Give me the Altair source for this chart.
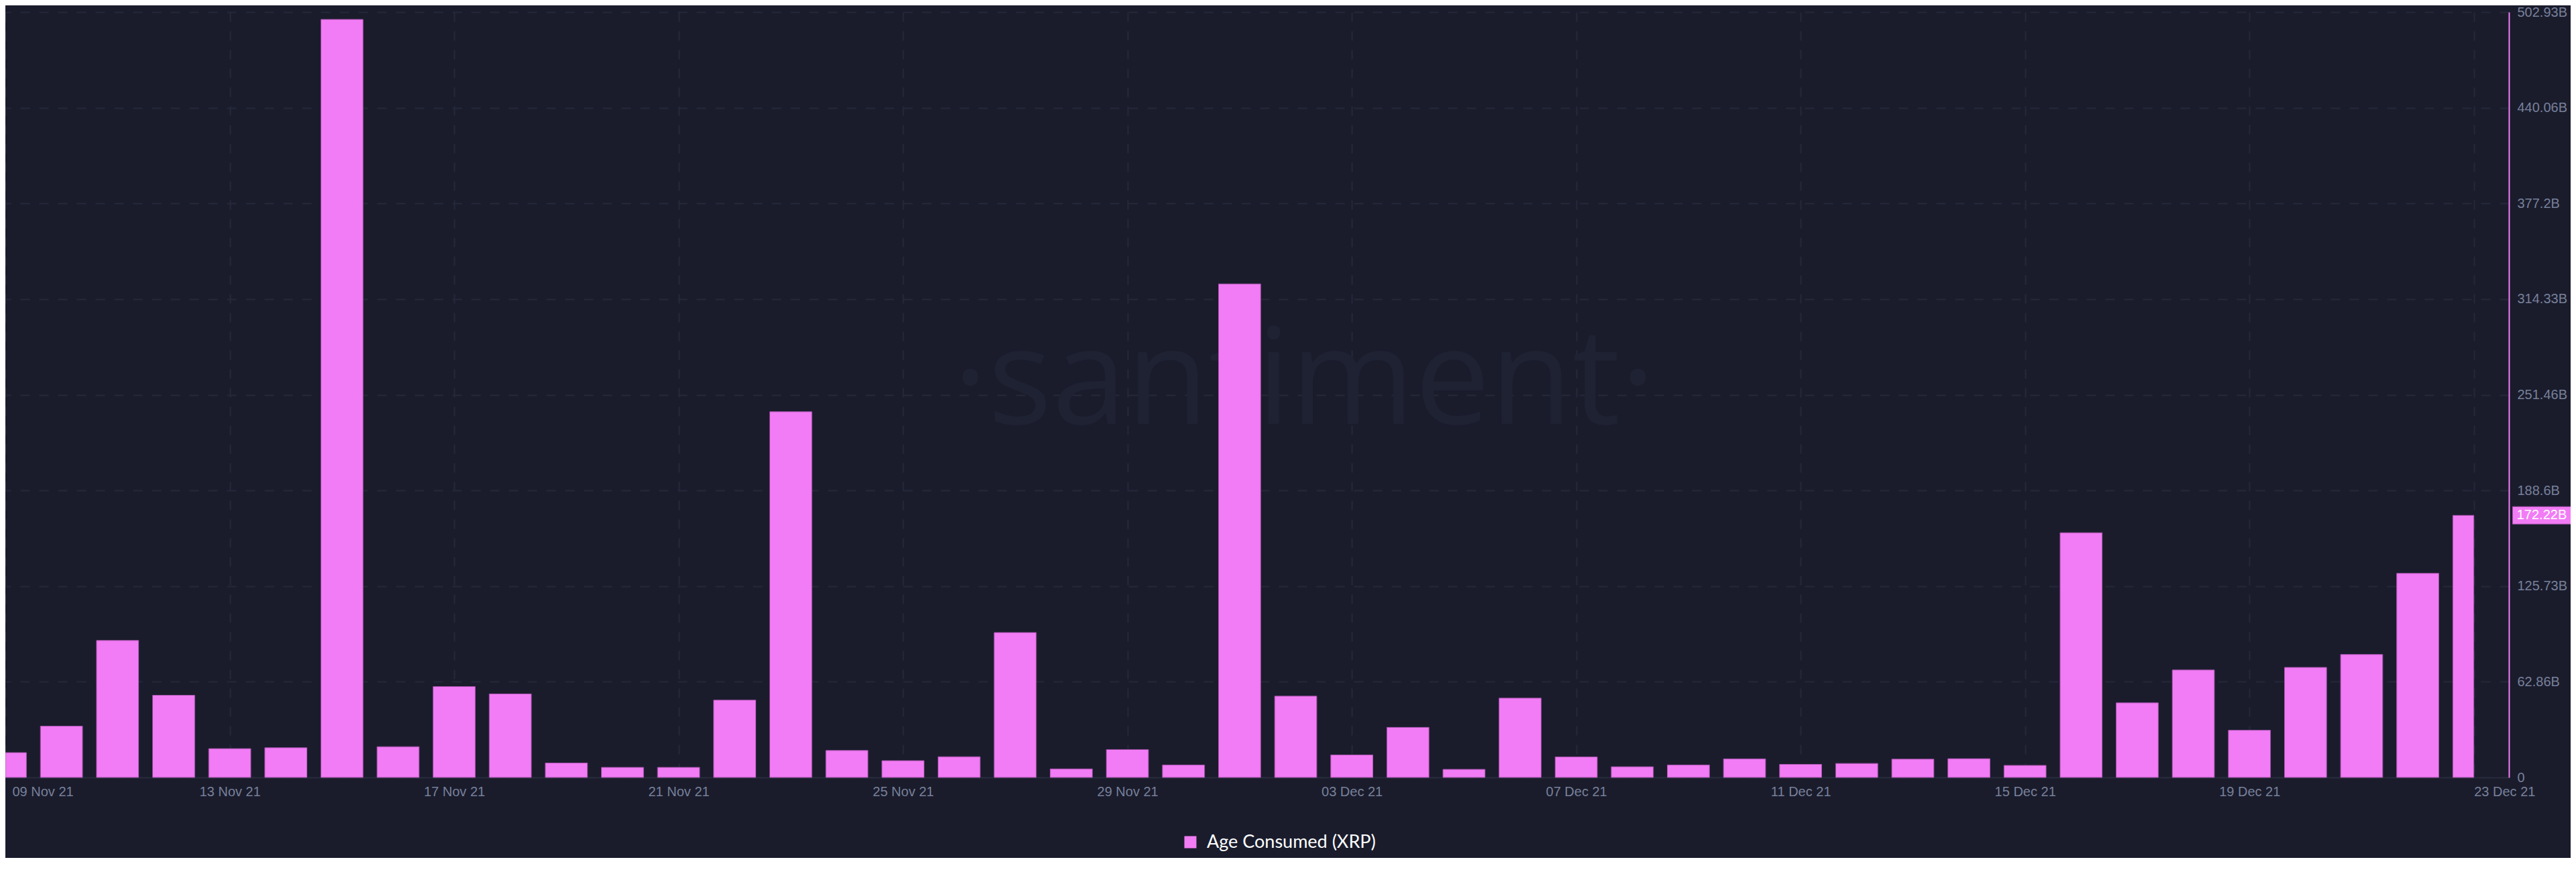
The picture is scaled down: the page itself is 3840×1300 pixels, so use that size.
import altair as alt
import pandas as pd

# ---------------- data ----------------
dates = [d.strftime("%Y-%m-%d") for d in pd.date_range("2021-11-09", "2021-12-23", freq="D")]
age_consumed_b = [
    16.3, 33.7, 90.0, 54.0, 18.9, 19.5, 498.1, 20.2, 59.7, 54.9,
    9.5, 6.6, 6.6, 50.8, 240.3, 17.7, 11.0, 13.6, 95.2, 5.6,
    18.3, 8.2, 324.3, 53.4, 14.8, 32.9, 5.3, 52.1, 13.5, 7.0,
    8.2, 12.2, 8.6, 9.2, 12.0, 12.3, 7.9, 160.8, 49.0, 70.6,
    31.0, 72.3, 80.8, 134.1, 172.22,
]
series_name = "Age Consumed (XRP)"
y_tick_values = [0, 62.86, 125.73, 188.6, 251.46, 314.33, 377.2, 440.06, 502.93]
x_tick_days = [(2021, 11, 9), (2021, 11, 13), (2021, 11, 17), (2021, 11, 21),
               (2021, 11, 25), (2021, 11, 29), (2021, 12, 3), (2021, 12, 7),
               (2021, 12, 11), (2021, 12, 15), (2021, 12, 19), (2021, 12, 23)]
watermark = ["·santiment·"]

df = pd.DataFrame({"date": dates, "value": age_consumed_b, "series": series_name})

# ---------------- style ----------------
BG = "#1a1c2c"
PINK = "#f27cf5"
GRID = "#242839"
LABEL = "#78809a"
W, H = 3732, 1141

x_scale = alt.Scale(
    type="utc",
    domain=[alt.DateTime(year=2021, month=11, date=9, utc=True),
            alt.DateTime(year=2021, month=12, date=23, hours=15, utc=True)],
)
y_scale = alt.Scale(domain=[0, 502.93], nice=False, zero=True)

edge_test = "datum.value <= utc(2021,10,9) || datum.value >= utc(2021,11,23)"
x_axis = alt.Axis(
    values=[alt.DateTime(year=y, month=m, date=d, utc=True) for (y, m, d) in x_tick_days],
    labelExpr="utcFormat(datum.value, '%d %b %y')",
    labelFlush=False,
    labelAlign={"condition": {"test": edge_test, "value": "left"}, "value": "center"},
    labelOffset={"condition": {"test": "datum.value <= utc(2021,10,9)", "value": 10}, "value": 0},
    domainColor="#262a3b", domainWidth=2, ticks=False, labelPadding=11,
    labelColor=LABEL, labelFontSize=20, labelFont="Liberation Sans",
    grid=True, gridColor=GRID, gridDash=[14, 14], gridWidth=2, title=None,
)
y_axis = alt.Axis(
    orient="right", values=y_tick_values,
    labelExpr="datum.value == 0 ? '0' : format(datum.value, '.2~f') + 'B'",
    domainColor=PINK, domainWidth=2, ticks=False, labelPadding=12, labelAlign="left",
    labelColor=LABEL, labelFontSize=20, labelFont="Liberation Sans",
    grid=True, gridColor=GRID, gridDash=[14, 14], gridWidth=2, title=None,
)
legend = alt.Legend(
    title=None, orient="none", legendX=1753, legendY=1224, direction="horizontal",
    symbolType="square", symbolSize=324, symbolStrokeWidth=0, labelLimit=0,
    labelFont="Lato", labelFontSize=27, labelColor="#ffffff", labelOffset=11, padding=0,
)

base = alt.Chart(df)

wm = alt.Chart(pd.DataFrame({"wm": watermark})).mark_text(
    font="Open Sans", fontSize=200, color="#1f2233",
    align="center", baseline="alphabetic",
).encode(x=alt.value(1936), y=alt.value(614), text="wm:N")

bars = base.transform_calculate(
    x0="max(toDate(datum.date) - 9*3600*1000, utc(2021,10,9))",
    x1="min(toDate(datum.date) + 9*3600*1000, utc(2021,11,23))",
).mark_bar(stroke="#a552aa", strokeWidth=1).encode(
    x=alt.X("x0:T", scale=x_scale, axis=x_axis, title=None),
    x2="x1:T",
    y=alt.Y("value:Q", scale=y_scale, axis=y_axis, title=None),
    y2=alt.datum(0),
    color=alt.Color("series:N", scale=alt.Scale(range=[PINK]), legend=legend),
)

last = base.transform_calculate(t="toDate(datum.date)").transform_joinaggregate(
    tmax="max(t)").transform_filter("datum.t == datum.tmax").transform_calculate(
    label="format(datum.value, '.2f') + 'B'")

badge = last.mark_tick(orient="horizontal", size=87, thickness=26, color=PINK,
                       opacity=1, stroke="#a552aa", strokeWidth=1).encode(
    x=alt.value(3781), y=alt.Y("value:Q", title=None))
badge_text = last.mark_text(color="#ffffff", fontSize=20, font="Liberation Sans",
                            align="center", baseline="middle").encode(
    x=alt.value(3781), y=alt.Y("value:Q", title=None), text="label:N")

chart = alt.layer(wm, bars, badge, badge_text).properties(
    width=W, height=H, background=BG,
    autosize=alt.AutoSizeParams(type="none"),
    padding={"left": 0, "top": 10, "right": 92, "bottom": 120},
).configure_view(strokeWidth=0)

chart.save("out.html", embed_options={"renderer": "svg", "actions": False})
